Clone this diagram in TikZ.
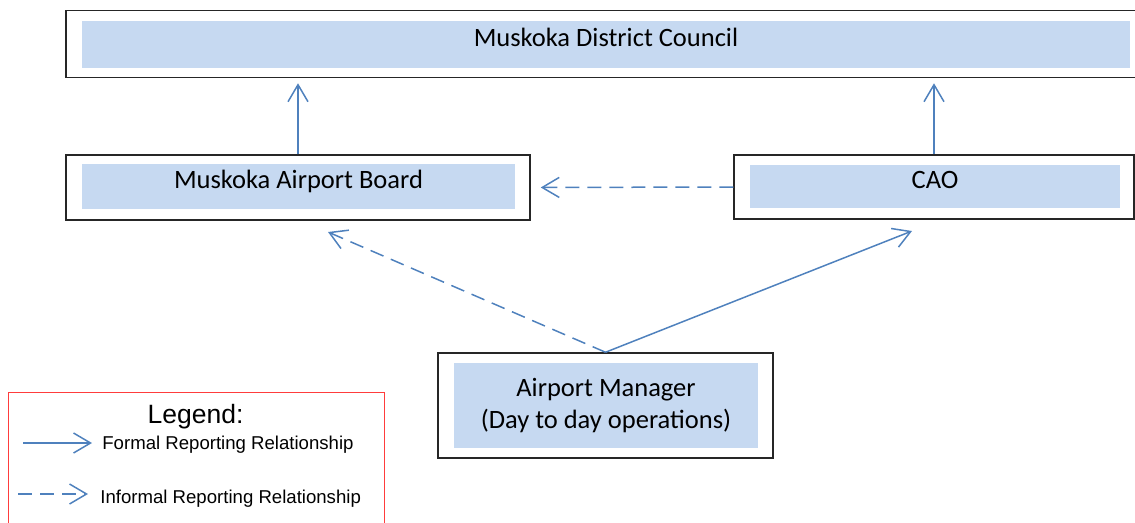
\documentclass[tikz,border=0pt]{standalone}
\usepackage{fontspec}
\setmainfont{Carlito}
\newfontfamily\legendfont{Liberation Sans}
\usetikzlibrary{arrows.meta}

\definecolor{boxfill}{RGB}{198,217,241}
\definecolor{linkblue}{RGB}{79,129,189}
\definecolor{legendred}{RGB}{255,60,60}

\tikzset{every picture/.style={line width=0.75pt}}
\tikzset{
  outerbox/.style={draw=black!85, line width=1.5pt, inner sep=0pt},
  fillbox/.style={fill=boxfill, inner sep=0pt, align=center, font=\fontsize{26.5}{32}\selectfont},
  fillline/.style={fillbox, text height=13pt, text depth=9pt},
  formal/.style={draw=linkblue, line width=1.5pt, -{Straight Barb[length=17pt,width=20pt,line width=1.5pt]}},
  informal/.style={formal, dash pattern=on 14pt off 8pt},
  legendtext/.style={anchor=west, inner sep=0pt, font=\legendfont\fontsize{18.6}{22}\selectfont},
}

\begin{document}
\begin{tikzpicture}[x=1pt,y=1pt,yscale=-1,xscale=1]
\useasboundingbox (0,0) rectangle (1135,522);

%Shape: Rectangle [council]
\node [outerbox, minimum width=1071, minimum height=67] (council) at (601.5,44) {};
\node [fillline, minimum width=1048, minimum height=47] (councilfill) at (606,44.5) {Muskoka District Council};
%Shape: Rectangle [board]
\node [outerbox, minimum width=464, minimum height=65] (board) at (298,187.5) {};
\node [fillline, minimum width=433, minimum height=45] (boardfill) at (298.5,186.5) {Muskoka Airport Board};
%Shape: Rectangle [cao]
\node [outerbox, minimum width=400, minimum height=64] (cao) at (934,187) {};
\node [fillline, minimum width=370, minimum height=43] (caofill) at (935,186.5) {CAO};
%Shape: Rectangle [manager]
\node [outerbox, minimum width=335, minimum height=105] (manager) at (605.5,405.5) {};
\node [fillbox, minimum width=304, minimum height=85] (managerfill) at (606,405.5) {Airport Manager\\(Day to day operations)};

%free ends of the slanted arrows
\coordinate (boardin) at (328,232);
\coordinate (caoin) at (912,231);

%Straight Lines
\draw [formal, shorten >=5pt] (board.north) -- (board.north |- council.south);
\draw [formal, shorten >=5pt] (cao.north) -- (cao.north |- council.south);
\draw [informal, shorten >=10pt] (cao.west) -- (board.east);
\draw [informal] (manager.north) -- (boardin);
\draw [formal] (manager.north) -- (caoin);

%Shape: Rectangle [legend]
\node [draw=legendred, line width=1pt, minimum width=376, minimum height=150, inner sep=0pt] (legendbox) at (196,467) {};
% Text Node
\node [inner sep=0pt, font=\legendfont\fontsize{26.5}{30}\selectfont] (legendtitle) at (195.5,417) {Legend:};
\coordinate (formalstart) at (23,443);
\coordinate (formalend) at (92,443);
\coordinate (informalstart) at (18,494);
\coordinate (informalend) at (88,494);
\draw [formal] (formalstart) -- (formalend);
\draw [informal] (informalstart) -- (informalend);
% Text Node
\node [legendtext] (formaltext) at (102,445) {Formal Reporting Relationship};
% Text Node
\node [legendtext] (informaltext) at (100,499) {Informal Reporting Relationship};

\end{tikzpicture}
\end{document}
